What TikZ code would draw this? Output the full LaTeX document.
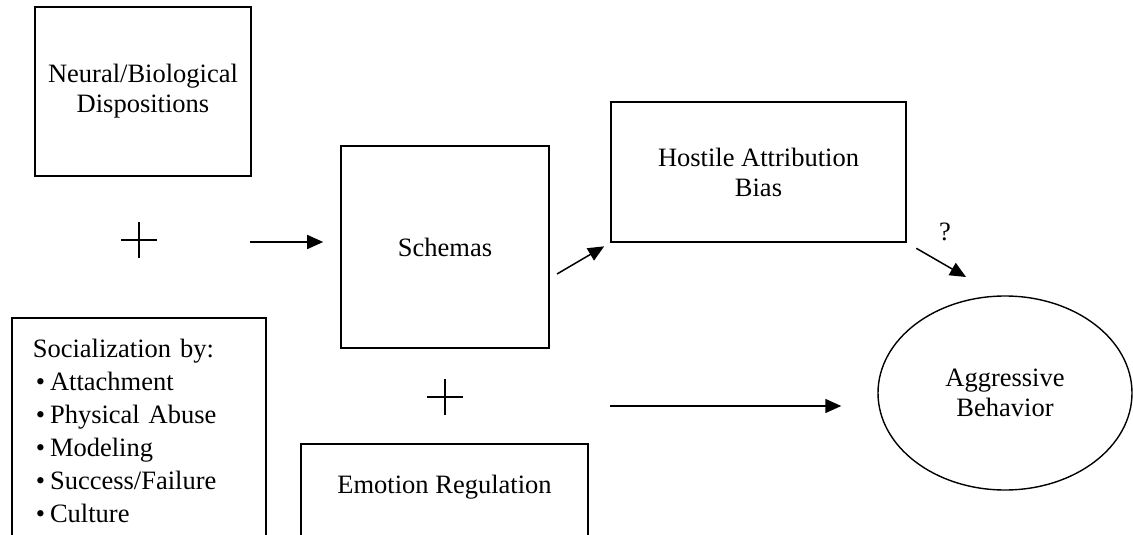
\documentclass[tikz,border=0pt]{standalone}
\usepackage{fontspec}
\setmainfont{Liberation Serif}
\usetikzlibrary{arrows.meta,shapes.geometric,shapes.misc}

\newcommand{\bul}{\hspace*{3pt}\textbullet\hspace{5pt}}

\begin{document}
\begin{tikzpicture}[x=1pt, y=-1pt,
	every node/.style={font=\fontsize{26.5}{30}\selectfont, align=center},
	box/.style={draw=black, line width=1.6pt, inner sep=0pt},
	plus/.style={draw=black, line width=1.4pt, cross out, rotate=45, minimum size=24pt, inner sep=0pt},
	arrow/.style={draw=black, line width=1.5pt, -{Triangle[length=16pt,width=14pt]}}]
				\useasboundingbox (0,0) rectangle (1133,535);
				\clip (0,0) rectangle (1133,535);
				
				\node[box, minimum width=216pt, minimum height=169pt] (neural) at (143,91.5) {Neural/Biological\\Dispositions};
				\node[plus] (plusA) at (139,240) {};
				\node[box, minimum width=208pt, minimum height=202pt] (schemas) at (445,247) {Schemas};
				\node[box, minimum width=295pt, minimum height=140pt] (hostile) at (758.5,172) {Hostile Attribution\\Bias};
				\node[ellipse, draw=black, line width=1.4pt, minimum width=254pt, minimum height=194pt, inner sep=0pt] (agg) at (1005,393) {Aggressive\\Behavior};
				\node[plus] (plusB) at (445,397) {};
				\node[box, anchor=north west, align=left, text width=212pt, inner xsep=21pt, minimum height=226pt,
					font=\fontsize{26.5}{33}\selectfont] (social) at (11,317)
					{Socialization by:\\\bul Attachment\\\bul Physical Abuse\\\bul Modeling\\\bul Success/Failure\\\bul Culture};
				\node[box, anchor=north, minimum width=287pt, text height=50pt, text depth=52pt] (emotion) at (444.5,443) {Emotion Regulation};
				\node (quest) at (945,232) {?};
				
				\coordinate (s1) at (250,242);
				\coordinate (s2) at (557,274);
				\coordinate (t3) at (966,277);
				\coordinate (s4) at (610,406);
				
				\draw[arrow, shorten >=17pt] (s1) -- (schemas.west |- s1);
				\draw[arrow, shorten >=7pt] (s2) -- (hostile.south west);
				\draw[arrow, shorten <=11pt] (hostile.south east) -- (t3);
				\draw[arrow, shorten >=36pt] (s4) -- (agg.west |- s4);
				\end{tikzpicture}
\end{document}
